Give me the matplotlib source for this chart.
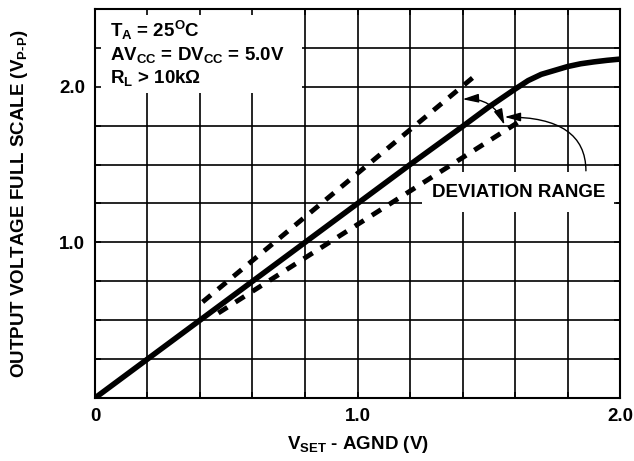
import matplotlib
matplotlib.use('Agg')
import matplotlib.pyplot as plt
from matplotlib.patches import Rectangle

plt.rcParams['font.family'] = ['Liberation Sans', 'DejaVu Sans']
plt.rcParams['font.weight'] = 'bold'
plt.rcParams['mathtext.fontset'] = 'custom'
plt.rcParams['mathtext.rm'] = 'Liberation Sans:bold'
plt.rcParams['mathtext.it'] = 'Liberation Sans:bold'
plt.rcParams['mathtext.bf'] = 'Liberation Sans:bold'
plt.rcParams['mathtext.default'] = 'rm'

# transfer curve
vset = [0, 0.2, 0.4, 0.6, 0.8, 1.0, 1.2, 1.4, 1.5, 1.6, 1.65, 1.7, 1.75, 1.8, 1.85, 1.9, 1.95, 2.0]
vout = [0, 0.25, 0.5, 0.75, 1.0, 1.25, 1.5, 1.745, 1.87, 1.985, 2.04, 2.08, 2.105, 2.13, 2.148, 2.16, 2.17, 2.178]

# deviation range bounds
upper_x = [0.41, 1.44]
upper_y = [0.617, 2.06]
lower_x = [0.47, 1.61]
lower_y = [0.546, 1.77]

xgrid = [0, 0.2, 0.4, 0.6, 0.8, 1.0, 1.2, 1.4, 1.6, 1.8, 2.0]
xlabels = ['0', '', '', '', '', '1.0', '', '', '', '', '2.0']
ygrid = [0, 0.25, 0.5, 0.75, 1.0, 1.25, 1.5, 1.75, 2.0, 2.25, 2.5]
ylabels = ['', '', '', '', '1.0', '', '', '', '2.0', '', '']

FS = 13.5

fig = plt.figure(figsize=(6.34, 4.61), dpi=100)
ax = fig.add_axes([0.1498, 0.1367, 0.8282, 0.8438])
ax.set_xlim(0, 2.0)
ax.set_ylim(0, 2.5)

# grid drawn by hand so white label boxes can hide it but not the ticks
ax.vlines(xgrid, 0, 2.5, colors='black', lw=1.2, zorder=1)
ax.hlines(ygrid, 0, 2.0, colors='black', lw=1.2, zorder=1)
ax.add_patch(Rectangle((0, 1.96), 0.79, 0.54, fc='white', ec='none', zorder=1.5))
ax.add_patch(Rectangle((1.245, 1.195), 0.74, 0.255, fc='white', ec='none', zorder=1.5))
ax.set_axisbelow(False)

ax.plot(vset, vout, color='black', lw=4.0, solid_capstyle='butt', zorder=3)
ax.plot(upper_x, upper_y, color='black', lw=3.5, linestyle=(0, (2.2, 1.915)),
        dash_capstyle='butt', zorder=3)
ax.plot(lower_x, lower_y, color='black', lw=3.5, linestyle=(0, (2.2, 1.96)),
        dash_capstyle='butt', zorder=3)

ax.annotate('', xy=(1.56, 1.755), xytext=(1.40, 1.92),
            arrowprops=dict(arrowstyle='<|-|>,head_length=0.8,head_width=0.22',
                            connectionstyle='arc3,rad=-0.35', lw=1.0,
                            color='black', mutation_scale=12,
                            shrinkA=0, shrinkB=0), zorder=4)
ax.annotate('', xy=(1.56, 1.806), xytext=(1.87, 1.46),
            arrowprops=dict(arrowstyle='-|>,head_length=0.8,head_width=0.22',
                            connectionstyle='angle3,angleA=90,angleB=0', lw=1.0,
                            color='black', mutation_scale=12,
                            shrinkA=0, shrinkB=0), zorder=4)
ax.text(1.615, 1.32, 'DEVIATION RANGE', ha='center', va='center',
        fontsize=FS, fontweight='bold', zorder=4)

ax.text(0.057, 2.32, r'T$_{A}$ = 25$^{O}$C', fontsize=FS, fontweight='bold', zorder=4)
ax.text(0.057, 2.175, r'AV$_{CC}$ = DV$_{CC}$ = 5.0V', fontsize=FS, fontweight='bold', zorder=4)
ax.text(0.057, 2.025, r'R$_{L}$ > 10kΩ', fontsize=FS, fontweight='bold', zorder=4)

ax.set_xticks(xgrid, labels=xlabels)
ax.set_yticks(ygrid, labels=ylabels)
ax.tick_params(direction='in', length=4, width=1.2, top=True, right=True,
               labelsize=FS, pad=7)
for lab in ax.get_xticklabels() + ax.get_yticklabels():
    lab.set_fontweight('bold')
for sp in ax.spines.values():
    sp.set_linewidth(1.5)

ax.set_xlabel(r'V$_{SET}$ - AGND (V)', fontsize=FS, fontweight='bold', labelpad=7)
ax.set_ylabel(r'OUTPUT VOLTAGE FULL SCALE (V$_{P\text{-}P}$)', fontsize=FS,
              fontweight='bold', labelpad=21)

plt.savefig('out.png', dpi=100)
